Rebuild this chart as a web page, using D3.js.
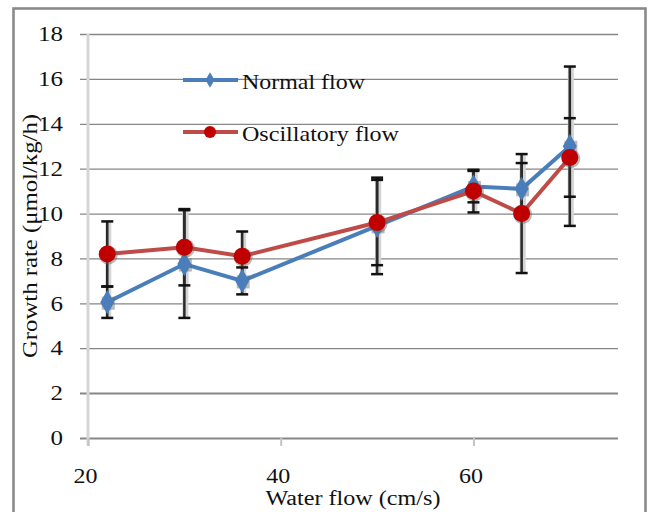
<!DOCTYPE html>
<meta charset="utf-8">
<style>
body { margin: 0; background: #fff; }
svg text { font-family: "Liberation Serif", "Times New Roman", serif; fill: #111; }
.grid line { stroke: #868686; }
</style>
<svg width="650" height="512"></svg>
<script src="https://d3js.org/d3.v7.min.js"></script>
<script>

var flow = [22, 30, 36, 50, 60, 65, 70];
var normal = [6.05, 7.75, 7.0, 9.45, 11.2, 11.1, 13.0];
var normalErr = [0.7, 2.4, 0.6, 2.15, 0.7, 1.15, 3.55];
var oscillatory = [8.2, 8.5, 8.1, 9.6, 11.0, 10.0, 12.5];
var oscillatoryErr = [1.45, 1.7, 1.1, 1.9, 0.95, 2.65, 1.75];
var yTicks = [0, 2, 4, 6, 8, 10, 12, 14, 16, 18];
var xTicks = [20, 40, 60];
var seriesNames = ["Normal flow", "Oscillatory flow"];

var svg = d3.select("svg");
var FONT = "Liberation Serif";

var x = d3.scaleLinear().domain([20, 75]).range([88, 618]);
var y = d3.scaleLinear().domain([0, 18]).range([438, 34]);

// outer frame
svg.append("rect")
    .attr("x", 13.5).attr("y", 8.5)
    .attr("width", 632).attr("height", 530)
    .attr("fill", "none")
    .attr("stroke", "#8a8a8a")
    .attr("stroke-width", 2.6);

// y grid + labels
var yAxis = svg.append("g")
    .attr("class", "grid")
    .attr("transform", "translate(80,0)")
    .call(d3.axisLeft(y).tickValues(yTicks).tickSize(-(618 - 80)).tickPadding(17));
yAxis.attr("font-family", FONT);
yAxis.select(".domain").remove();
yAxis.selectAll("line")
    .attr("stroke-width", function(d) { return d <= 2 ? 2 : 1.3; });
yAxis.selectAll("text")
    .style("font-size", "21px")
    .attr("textLength", function(d) { return d >= 10 ? 25 : 12.5; })
    .attr("lengthAdjust", "spacingAndGlyphs");

// vertical axis line
svg.append("line")
    .attr("x1", x(20)).attr("x2", x(20))
    .attr("y1", y(18)).attr("y2", y(0) + 8)
    .attr("stroke", "#d6d6d6").attr("stroke-width", 3);

// x axis
var xAxis = svg.append("g")
    .attr("transform", "translate(0," + y(0) + ")")
    .call(d3.axisBottom(x).tickValues(xTicks).tickSize(8).tickPadding(22));
xAxis.attr("font-family", FONT);
xAxis.select(".domain").remove();
xAxis.selectAll("line").attr("stroke", "#c4c4c4").attr("stroke-width", 2);
xAxis.selectAll("text")
    .style("font-size", "21px")
    .attr("x", -3)
    .attr("textLength", 24)
    .attr("lengthAdjust", "spacingAndGlyphs");

// axis titles
svg.append("text")
    .attr("x", 353).attr("y", 505)
    .attr("text-anchor", "middle")
    .style("font-size", "20px")
    .attr("textLength", 175)
    .attr("lengthAdjust", "spacingAndGlyphs")
    .text("Water flow (cm/s)");

svg.append("text")
    .attr("transform", "translate(37,236) rotate(-90)")
    .attr("text-anchor", "middle")
    .style("font-size", "20px")
    .attr("textLength", 244)
    .attr("lengthAdjust", "spacingAndGlyphs")
    .text("Growth rate (\u03bcmol/kg/h)");

var series = [
  {name: seriesNames[0], values: normal, err: normalErr, color: "#4a7ebb", marker: "diamond"},
  {name: seriesNames[1], values: oscillatory, err: oscillatoryErr, color: "#be4b48", marker: "circle"}
];

// error bars
var bars = [];
series.forEach(function(s) {
  flow.forEach(function(f, i) {
    bars.push({x: f, lo: s.values[i] - s.err[i], hi: s.values[i] + s.err[i]});
  });
});

var eb = svg.append("g");
eb.selectAll(".halo").data(bars).enter().append("line")
    .attr("x1", function(d) { return x(d.x) + 1; })
    .attr("x2", function(d) { return x(d.x) + 1; })
    .attr("y1", function(d) { return y(d.hi); })
    .attr("y2", function(d) { return y(d.lo); })
    .attr("stroke", "#d4d4d4").attr("stroke-width", 6);
eb.selectAll(".stem").data(bars).enter().append("line")
    .attr("x1", function(d) { return x(d.x); })
    .attr("x2", function(d) { return x(d.x); })
    .attr("y1", function(d) { return y(d.hi); })
    .attr("y2", function(d) { return y(d.lo); })
    .attr("stroke", "#2a2a2a").attr("stroke-width", 2.5);
bars.forEach(function(d) {
  [d.lo, d.hi].forEach(function(v) {
    eb.append("line")
        .attr("x1", x(d.x) - 6).attr("x2", x(d.x) + 6)
        .attr("y1", y(v)).attr("y2", y(v))
        .attr("stroke", "#111").attr("stroke-width", 2.5);
  });
});

var diamond = d3.symbol().type(d3.symbolDiamond).size(170);
var line = d3.line()
    .x(function(d) { return x(d[0]); })
    .y(function(d) { return y(d[1]); });

series.forEach(function(s) {
  var pts = flow.map(function(f, i) { return [f, s.values[i]]; });
  var g = svg.append("g");
  g.append("path")
      .datum(pts)
      .attr("d", line)
      .attr("fill", "none")
      .attr("stroke", s.color)
      .attr("stroke-width", 4);
  var m = g.selectAll(".m").data(pts).enter();
  if (s.marker === "diamond") {
    m.append("path")
        .attr("d", d3.symbol().type(d3.symbolSquare).size(170))
        .attr("transform", function(d) { return "translate(" + (x(d[0]) + 1) + "," + (y(d[1]) + 1) + ")"; })
        .attr("fill", "#666").attr("opacity", 0.45);
    m.append("path")
        .attr("d", diamond)
        .attr("transform", function(d) { return "translate(" + x(d[0]) + "," + y(d[1]) + ")"; })
        .attr("fill", s.color);
  } else {
    m.append("circle")
        .attr("cx", function(d) { return x(d[0]) + 1; })
        .attr("cy", function(d) { return y(d[1]) + 1; })
        .attr("r", 9.5)
        .attr("fill", "#666").attr("opacity", 0.45);
    m.append("circle")
        .attr("cx", function(d) { return x(d[0]); })
        .attr("cy", function(d) { return y(d[1]); })
        .attr("r", 8.5)
        .attr("fill", "#c00000");
  }
});

// legend
var legend = svg.append("g");
var legendY = [80, 132];
series.forEach(function(s, i) {
  var ly = legendY[i];
  legend.append("line")
      .attr("x1", 183).attr("x2", 238)
      .attr("y1", ly).attr("y2", ly)
      .attr("stroke", s.color).attr("stroke-width", 4);
  if (s.marker === "diamond") {
    legend.append("path")
        .attr("d", d3.symbol().type(d3.symbolDiamond).size(70))
        .attr("transform", "translate(210," + ly + ")")
        .attr("fill", s.color);
  } else {
    legend.append("circle")
        .attr("cx", 210).attr("cy", ly).attr("r", 6)
        .attr("fill", "#c00000");
  }
  legend.append("text")
      .attr("x", 242).attr("y", ly + 9)
      .style("font-size", "21px")
      .attr("textLength", i === 0 ? 123 : 157)
      .attr("lengthAdjust", "spacingAndGlyphs")
      .text(s.name);
});

</script>
